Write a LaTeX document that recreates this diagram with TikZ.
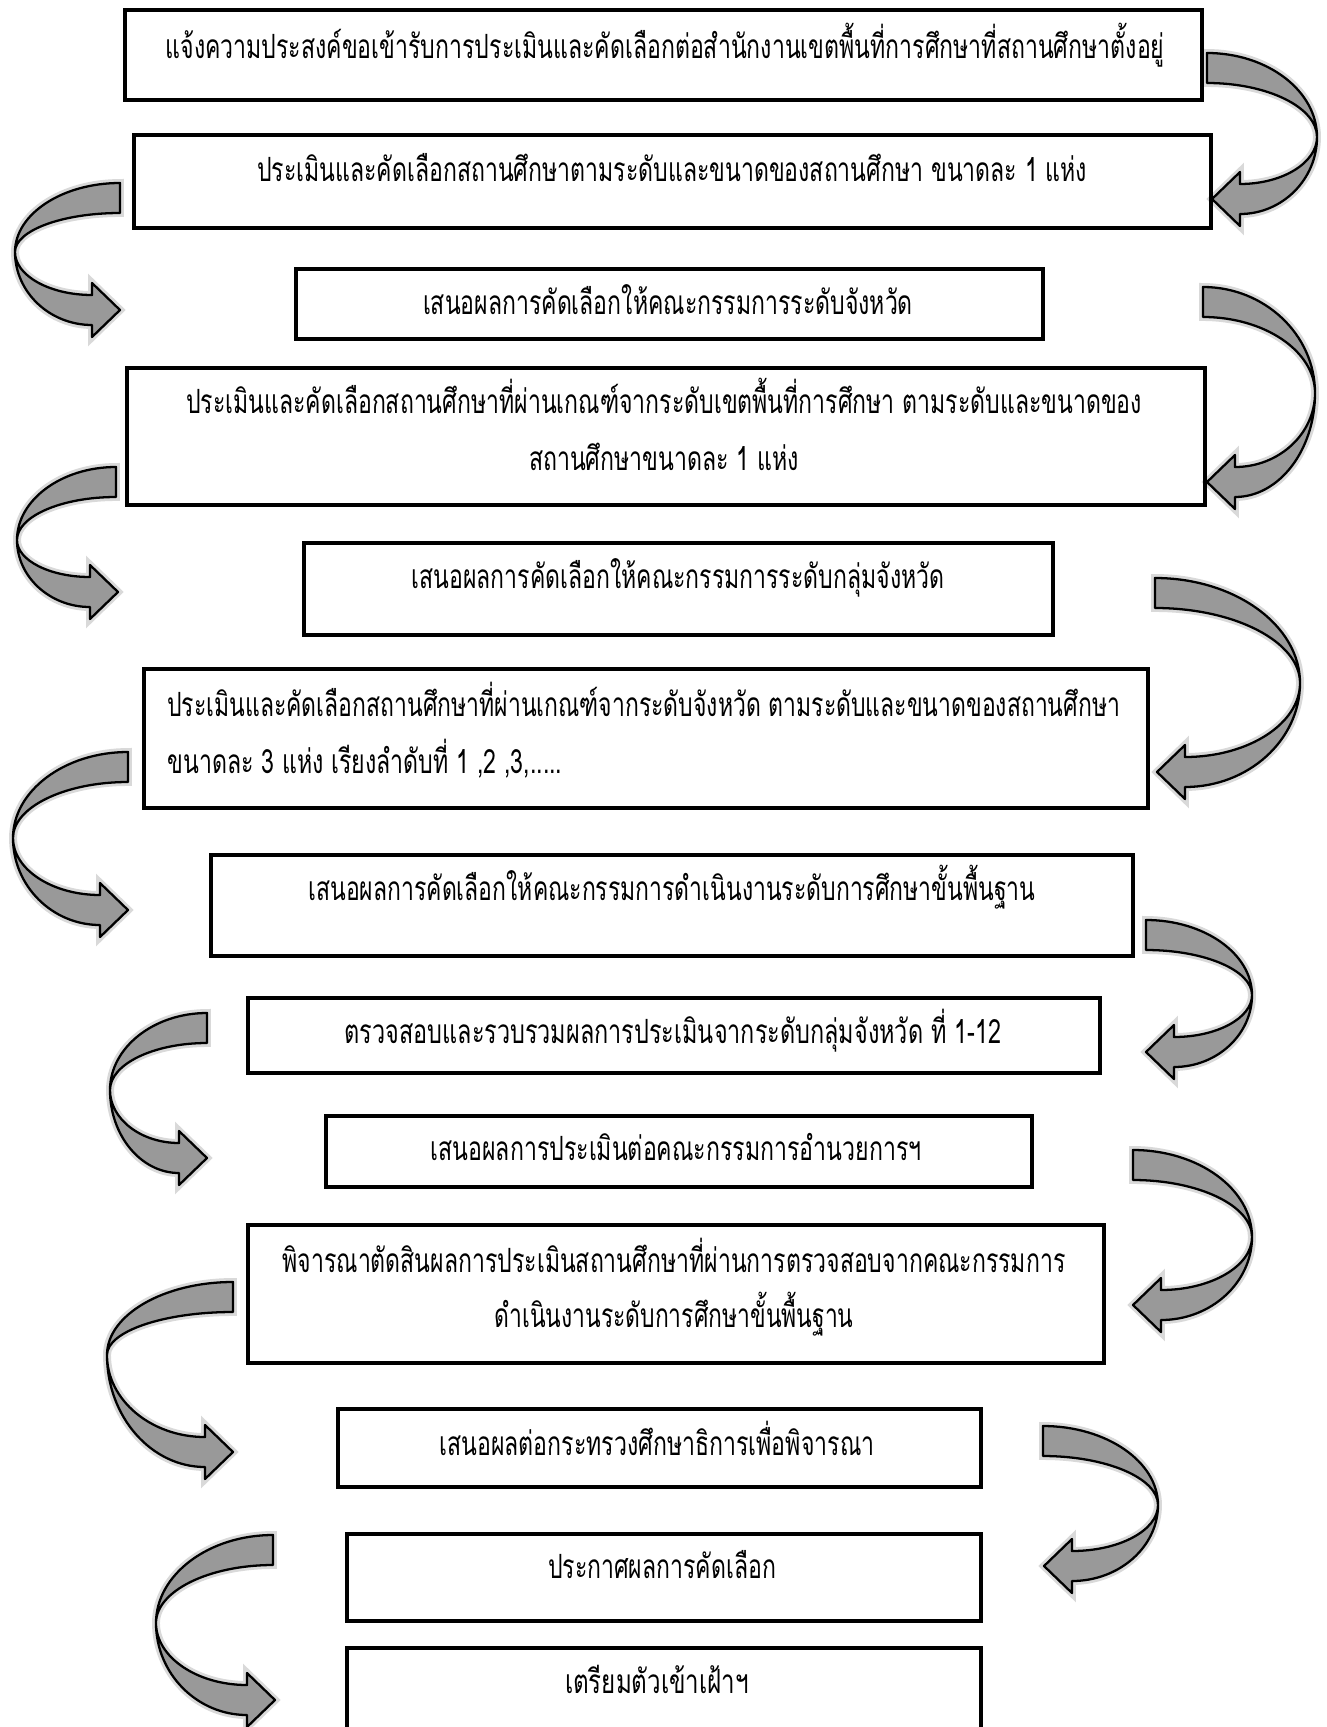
\documentclass[tikz,border=0pt]{standalone}
\usepackage{fontspec}
\usepackage{graphicx}
\newfontfamily\thaifont[Script=Thai]{Loma}
\newcommand{\fitw}[2]{\setbox0=\hbox{#2}\pgfmathsetmacro\fitsx{#1*0.5690551/\the\wd0}\scalebox{\fitsx}[1]{\box0}}
% curved ribbon arrow: #1 tail x, #2 tail top y, #3 bulge x, #4 bulge y, #5 tip x, #6 tip y
\newcommand{\ribbon}[6]{%
\pgfmathsetmacro\rbD{#1-#3}%
\pgfmathsetmacro\rbs{(#1>#3)?1:-1}%
\pgfmathsetmacro\rbw{30}%
\pgfmathsetmacro\rbhw{27}%
\pgfmathsetmacro\rbL{28}%
\pgfmathsetmacro\rbca{#1-0.55*\rbD}%
\pgfmathsetmacro\rbya{#4-0.55*(#4-#2)}%
\pgfmathsetmacro\rbytb{#2+\rbw}%
\pgfmathsetmacro\rbyb{#4-0.55*(#4-\rbytb)}%
\pgfmathsetmacro\rbxb{#5-\rbs*\rbL}%
\pgfmathsetmacro\rbyl{#6+\rbw/2}%
\pgfmathsetmacro\rbyu{#6-\rbw/2}%
\pgfmathsetmacro\rbyhl{#6+\rbhw}%
\pgfmathsetmacro\rbyhu{#6-\rbhw}%
\pgfmathsetmacro\rbcb{\rbxb-0.55*(\rbxb-#3)}%
\pgfmathsetmacro\rbyc{#4+0.55*(\rbyl-#4)}%
\pgfmathsetmacro\rbyd{#4+0.55*(\rbyu-#4)}%
\path[ribbonst] (#1,#2) .. controls (\rbca,#2) and (#3,\rbya) .. (#3,#4) .. controls (#3,\rbyb) and (\rbca,\rbytb) .. (#1,\rbytb) -- cycle;
\path[ribbonst] (#3,#4) .. controls (#3,\rbyc) and (\rbcb,\rbyl) .. (\rbxb,\rbyl) -- (\rbxb,\rbyhl) -- (#5,#6) -- (\rbxb,\rbyhu) -- (\rbxb,\rbyu) .. controls (\rbcb,\rbyu) and (#3,\rbyd) .. (#3,#4) -- cycle;
}
\newcommand{\bx}[5]{\node[boxst, minimum width={(#4-#2)*0.02cm}, minimum height={(#5-#3)*0.02cm}] (#1) at ({(#2+#4)/2},{(#3+#5)/2}) {};}
\begin{document}
\begin{tikzpicture}[x=0.02cm,y=-0.02cm,
  boxst/.style={draw=black, line width=2.4pt, inner sep=0pt, outer sep=0pt},
  tx/.style={font=\thaifont\fontsize{19}{22}\selectfont, inner sep=0pt, anchor=base},
  ribbonst/.style={fill=black!40, draw=black, line width=1.3pt, line join=round,
    preaction={draw=black!15, line width=4.5pt}}]
\clip (0,0) rectangle (1326,1727);
\fill[white] (0,0) rectangle (1326,1727);
% curved arrows
\ribbon{1207}{53}{1317}{137}{1212}{199}
\ribbon{120}{183}{15}{252}{120}{310}
\ribbon{1203}{287}{1315}{393}{1207}{482}
\ribbon{116}{467}{17}{540}{118}{592}
\ribbon{1155}{578}{1300}{683}{1157}{772}
\ribbon{128}{752}{13}{838}{128}{910}
\ribbon{1146}{920}{1252}{995}{1146}{1052}
\ribbon{207}{1013}{110}{1090}{207}{1158}
\ribbon{1133}{1150}{1252}{1237}{1133}{1305}
\ribbon{233}{1282}{107}{1355}{233}{1452}
\ribbon{1043}{1426}{1158}{1505}{1044}{1566}
\ribbon{273}{1535}{156}{1623}{275}{1700}
% boxes
\bx{b1}{125}{10}{1202}{100}
\bx{b2}{134}{135}{1211}{228}
\bx{b3}{296}{269}{1043}{339}
\bx{b4}{127}{368}{1205}{505}
\bx{b5}{304}{543}{1053}{635}
\bx{b6}{144}{669}{1148}{808}
\bx{b7}{211}{855}{1133}{956}
\bx{b8}{248}{998}{1100}{1073}
\bx{b9}{326}{1116}{1032}{1187}
\bx{b10}{248}{1225}{1104}{1363}
\bx{b11}{338}{1409}{981}{1487}
\bx{b12}{347}{1534}{981}{1621}
\bx{b13}{347}{1648}{981}{1780}
% texts
\node[tx] (t1) at (665,59) {\fitw{999}{แจ้งความประสงค์ขอเข้ารับการประเมินและคัดเลือกต่อสำนักงานเขตพื้นที่การศึกษาที่สถานศึกษาตั้งอยู่}};
\node[tx] (t2) at (672,181) {\fitw{830}{ประเมินและคัดเลือกสถานศึกษาตามระดับและขนาดของสถานศึกษา ขนาดละ 1 แห่ง}};
\node[tx] (t3) at (668,314) {\fitw{490}{เสนอผลการคัดเลือกให้คณะกรรมการระดับจังหวัด}};
\node[tx] (t4a) at (664,413) {\fitw{956}{ประเมินและคัดเลือกสถานศึกษาที่ผ่านเกณฑ์จากระดับเขตพื้นที่การศึกษา ตามระดับและขนาดของ}};
\node[tx] (t4b) at (664,470) {\fitw{270}{สถานศึกษาขนาดละ 1 แห่ง}};
\node[tx] (t5) at (678,588) {\fitw{533}{เสนอผลการคัดเลือกให้คณะกรรมการระดับกลุ่มจังหวัด}};
\node[tx, anchor=base west] (t6a) at (167,716) {\fitw{953}{ประเมินและคัดเลือกสถานศึกษาที่ผ่านเกณฑ์จากระดับจังหวัด ตามระดับและขนาดของสถานศึกษา}};
\node[tx, anchor=base west] (t6b) at (167,773) {\fitw{395}{ขนาดละ 3 แห่ง เรียงลำดับที่ 1 ,2 ,3,.....}};
\node[tx] (t7) at (672,900) {\fitw{727}{เสนอผลการคัดเลือกให้คณะกรรมการดำเนินงานระดับการศึกษาขั้นพื้นฐาน}};
\node[tx] (t8) at (673,1043) {\fitw{657}{ตรวจสอบและรวบรวมผลการประเมินจากระดับกลุ่มจังหวัด ที่ 1-12}};
\node[tx] (t9) at (676,1160) {\fitw{491}{เสนอผลการประเมินต่อคณะกรรมการอำนวยการฯ}};
\node[tx] (t10a) at (674,1272) {\fitw{783}{พิจารณาตัดสินผลการประเมินสถานศึกษาที่ผ่านการตรวจสอบจากคณะกรรมการ}};
\node[tx] (t10b) at (674,1327) {\fitw{359}{ดำเนินงานระดับการศึกษาขั้นพื้นฐาน}};
\node[tx] (t11) at (657,1455) {\fitw{435}{เสนอผลต่อกระทรวงศึกษาธิการเพื่อพิจารณา}};
\node[tx] (t12) at (662,1578) {\fitw{228}{ประกาศผลการคัดเลือก}};
\node[tx] (t13) at (657,1693) {\fitw{184}{เตรียมตัวเข้าเฝ้าฯ}};
\end{tikzpicture}
\end{document}
